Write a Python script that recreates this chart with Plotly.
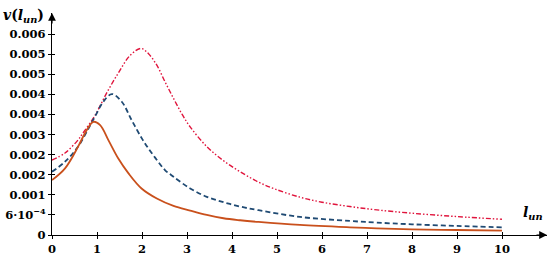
import plotly.graph_objects as go

# red dash-dot-dot curve
x_red = [0, 0.29, 0.58, 0.66, 0.96, 1.21, 1.47, 1.74, 1.98, 2.14, 2.33, 2.51, 2.70, 2.88,
         3.07, 3.44, 3.81, 4.18, 4.59, 4.96, 5.51, 6.0, 6.62, 7.22, 8.0, 9.0, 10.0]
v_red = [0.00224, 0.00245, 0.00284, 0.00299, 0.00358, 0.00423, 0.00483, 0.00537, 0.00557,
         0.00542, 0.00507, 0.00458, 0.00408, 0.00363, 0.00323, 0.00264, 0.00222, 0.00189,
         0.00158, 0.00137, 0.00113, 0.00098, 0.00085, 0.00075, 0.00065, 0.00055, 0.00047]

# blue dashed curve
x_blue = [0, 0.29, 0.58, 0.81, 0.96, 1.14, 1.33, 1.55, 1.77, 1.99, 2.14, 2.33, 2.51, 2.70,
          3.07, 3.44, 3.81, 4.18, 4.59, 5.51, 6.62, 7.22, 8.0, 9.0, 10.0]
v_blue = [0.00189, 0.00219, 0.00264, 0.00318, 0.00355, 0.00398, 0.00421, 0.00398, 0.00343,
          0.00290, 0.00259, 0.00224, 0.00194, 0.00174, 0.00139, 0.00114, 0.00098, 0.00085,
          0.00074, 0.00054, 0.00042, 0.00037, 0.00032, 0.00027, 0.00023]

# orange solid curve
x_orange = [0, 0.29, 0.58, 0.77, 0.92, 1.07, 1.25, 1.47, 1.70, 1.99, 2.33, 2.70, 3.07,
            3.44, 3.81, 4.18, 4.59, 5.51, 6.62, 7.22, 8.0, 9.0, 10.0]
v_orange = [0.00164, 0.00199, 0.00264, 0.00313, 0.00338, 0.00328, 0.00284, 0.00229, 0.00184,
            0.00139, 0.00109, 0.00087, 0.00073, 0.00060, 0.00050, 0.00044, 0.00039, 0.00030,
            0.00023, 0.00020, 0.00017, 0.00015, 0.00013]

x_ticks = list(range(0, 11))
y_ticks = [0, 0.0006, 0.0012, 0.0018, 0.0024, 0.003, 0.0036, 0.0042, 0.0048, 0.0054, 0.006]
y_tick_text = ["0", "6·10<sup>−4</sup>", "0.001", "0.002", "0.002", "0.003",
               "0.004", "0.004", "0.005", "0.005", "0.006"]

serif = "DejaVu Serif, Liberation Serif, serif"
font = dict(family=serif, size=11.5, color="black", weight="bold")

fig = go.Figure()
fig.add_trace(go.Scatter(x=x_red, y=v_red, mode="lines", line_shape="spline",
                         line=dict(color="#e0143c", width=1.4, dash="5px,2px,1.5px,2px,1.5px,2px")))
fig.add_trace(go.Scatter(x=x_blue, y=v_blue, mode="lines", line_shape="spline",
                         line=dict(color="#1f4a73", width=1.8, dash="5px,3px")))
fig.add_trace(go.Scatter(x=x_orange, y=v_orange, mode="lines", line_shape="spline",
                         line=dict(color="#c9501c", width=1.8)))
# empty trace to bring up the overlay axes (ticks on the other side)
fig.add_trace(go.Scatter(x=[None], y=[None], xaxis="x2", yaxis="y2", showlegend=False))

fig.update_layout(
    width=550, height=258,
    margin=dict(l=52, r=3, t=13, b=23),
    plot_bgcolor="white", paper_bgcolor="white",
    showlegend=False,
    font=font,
    xaxis=dict(range=[0, 11], tickvals=x_ticks, ticks="outside", ticklen=3,
               tickcolor="black", showline=True, linecolor="black", linewidth=1.2,
               showgrid=False, zeroline=False, tickfont=font, automargin=False),
    yaxis=dict(range=[0, 0.00663], tickvals=y_ticks, ticktext=y_tick_text,
               ticks="outside", ticklen=3, tickcolor="black", showline=True,
               linecolor="black", linewidth=1.2, showgrid=False, zeroline=False,
               tickfont=font, automargin=False),
    xaxis2=dict(overlaying="x", matches="x", side="bottom", anchor="y",
                tickvals=x_ticks, ticks="inside", ticklen=3, tickcolor="black",
                showticklabels=False, showgrid=False, zeroline=False, automargin=False),
    yaxis2=dict(overlaying="y", matches="y", side="left", anchor="x",
                tickvals=y_ticks, ticks="inside", ticklen=3, tickcolor="black",
                showticklabels=False, showgrid=False, zeroline=False, automargin=False),
)

# arrow heads at the end of the axes
fig.add_annotation(xref="paper", yref="paper", x=1.0, y=0, ax=-12, ay=0,
                   showarrow=True, arrowhead=2, arrowsize=1.3, arrowwidth=1.2,
                   arrowcolor="black", text="")
fig.add_annotation(xref="paper", yref="paper", x=0, y=1.0, ax=0, ay=12,
                   showarrow=True, arrowhead=2, arrowsize=1.3, arrowwidth=1.2,
                   arrowcolor="black", text="")

# axis titles
fig.add_annotation(xref="paper", yref="paper", x=-0.012, y=0.985, xanchor="right",
                   yanchor="middle", showarrow=False,
                   text="<b><i>v</i>(<i>l</i><sub><i>un</i></sub>)</b>",
                   font=dict(family=serif, size=14, color="black"))
fig.add_annotation(xref="paper", yref="paper", x=0.995, y=0.1, xanchor="right",
                   yanchor="middle", showarrow=False,
                   text="<b><i>l</i><sub><i>un</i></sub></b>",
                   font=dict(family=serif, size=14, color="black"))

fig.write_html("out.html", config={"displayModeBar": False},
               post_script="document.body.style.margin='0';")
